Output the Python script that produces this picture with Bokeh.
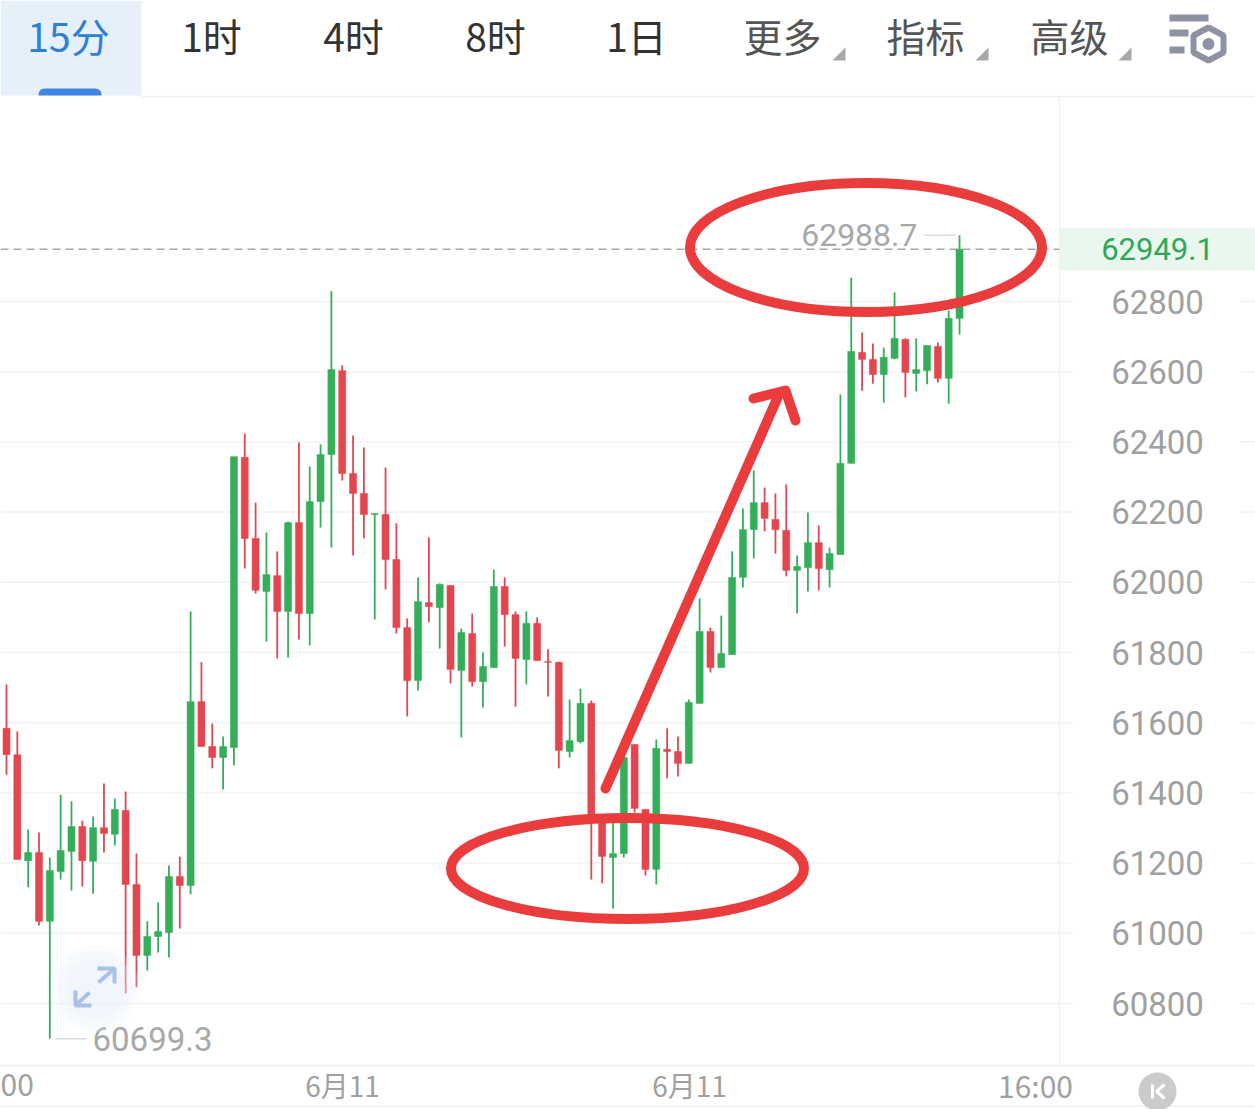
from bokeh.plotting import figure
from bokeh.models import Range1d, ColumnDataSource
from bokeh.core.properties import value
from bokeh.embed import file_html
from bokeh.resources import INLINE

opens = [61584,61509,61207,61230,61034,61176,61233,61304,61205,61301,
61282,61350,61139,60937,60991,61002,61162,61136,61660,61532,
61501,61529,62356,62125,61974,62019,61917,62170,61911,62230,
62364,62603,62310,62253,62193,62193,62065,61871,61720,61942,
61928,61991,61749,61854,61717,61757,61988,61908,61780,61883,
61774,61772,61518,61546,61655,61336,61216,61227,61538,61353,
61182,61524,61518,61484,61655,61860,61757,61794,62014,62150,
62227,62179,62148,62034,62042,62113,62036,62079,62339,62655,
62635,62592,62638,62692,62595,62603,62672,62581,62752]
closes = [61509,61210,61230,61034,61179,61236,61304,61207,61301,61284,
61353,61139,60937,60991,61005,61162,61136,61660,61532,61501,
61532,62358,62125,61977,62022,61917,62170,61911,62230,62364,
62606,62310,62253,62193,62196,62065,61871,61720,61945,61931,
61994,61752,61857,61717,61760,61988,61908,61783,61883,61777,
61772,61521,61549,61655,61336,61219,61227,61501,61356,61182,
61527,61518,61484,61658,61860,61757,61797,62014,62150,62227,
62182,62150,62034,62045,62113,62039,62082,62339,62658,62635,
62592,62641,62695,62598,62606,62675,62581,62752,62949.1]
highs = [61709,61575,61296,61287,61216,61395,61376,61321,61333,61427,
61384,61404,61227,61034,61088,61193,61219,61917,61772,61598,
61561,62358,62424,62227,62142,62088,62173,62398,62330,62393,
62829,62618,62418,62384,62196,62327,62168,61897,62014,62128,
61997,61991,61868,61911,61800,62036,62014,61917,61917,61900,
61809,61774,61666,61697,61663,61336,61341,61527,61538,61353,
61552,61584,61561,61666,61954,61871,61905,62088,62210,62319,
62270,62253,62279,62076,62199,62162,62099,62535,62868,62712,
62680,62669,62826,62695,62695,62675,62683,62774,62988.7]
lows = [61452,61210,61131,61022,60699.3,61153,61122,61133,61113,61230,
61250,60829,60846,60894,60945,60931,61014,61111,61532,61470,
61410,61478,62039,61968,61831,61783,61786,61837,61820,62156,
62099,62290,62076,62125,61894,61980,61854,61618,61692,61886,
61811,61712,61558,61703,61643,61757,61817,61646,61709,61777,
61675,61470,61501,61541,61153,61142,61071,61216,61344,61165,
61139,61441,61447,61484,61655,61743,61757,61794,61985,62068,
62145,62082,62017,61911,61974,61977,61985,62079,62339,62546,
62566,62512,62635,62527,62544,62564,62569,62509,62706]

y_ticks = [62800,62600,62400,62200,62000,61800,61600,61400,61200,61000,60800]
x_labels = ["00","6月11","6月11","16:00"]
tabs = ["15分","1时","4时","8时","1日","更多","指标","高级"]
last_price = 62949.1
max_price = 62988.7
min_price = 60699.3

GREEN, RED = "#35ae5a", "#e2464f"
GREY = "#a0a0a0"
CJK = value("Noto Sans CJK SC")
NUM = value("Roboto")

W, H = 1255, 1109
PX0, DX = 6.0, 10.83          # first candle centre, candle spacing
Y800, PPU = 1003.0, 0.351     # pixel of 60800, pixels per price unit

p = figure(width=W, height=H, output_backend="svg", toolbar_location=None,
           x_axis_type=None, y_axis_type=None, min_border=0,
           x_range=Range1d(-PX0/DX, (W-PX0)/DX),
           y_range=Range1d(60800-(H-Y800)/PPU, 60800+Y800/PPU),
           outline_line_color=None, background_fill_color="white")
p.grid.visible = False
p.extra_x_ranges["px"] = Range1d(0, W)
p.extra_y_ranges["px"] = Range1d(H, 0)
PXK = dict(x_range_name="px", y_range_name="px")
XPX = dict(x_range_name="px")

# tab background and frame lines
p.quad(left=[0], right=[141], top=[0], bottom=[95], fill_color="#e6f0fb", line_color=None, **PXK)
p.quad(left=[38], right=[101], top=[88], bottom=[95], fill_color="#3f87e0", line_color=None,
       border_radius=(6,6,0,0), **PXK)
p.segment(x0=[141,0,0,1059], y0=[96,1065,1106,96], x1=[W,W,W,1059], y1=[96,1065,1106,1065],
          line_color="#f1f1f1", line_width=1.5, **PXK)

# grid
p.segment(x0=[0]*len(y_ticks), x1=[1072]*len(y_ticks), y0=y_ticks, y1=y_ticks,
          line_color="#f3f3f3", line_width=1.5, **XPX)
p.segment(x0=[1240]*len(y_ticks), x1=[W]*len(y_ticks), y0=y_ticks, y1=y_ticks,
          line_color="#f3f3f3", line_width=1.5, **XPX)

# last price
p.quad(left=[1059], right=[W], top=[last_price+60], bottom=[last_price-60],
       fill_color="#e9f7ee", line_color=None, **XPX)
p.segment(x0=[0], x1=[1059], y0=[last_price], y1=[last_price], line_color="#a9a9a9",
          line_width=1.5, line_dash="8 5", **XPX)

# candles
idx = list(range(len(opens)))
src = ColumnDataSource(dict(
    i=idx, o=opens, c=closes, h=highs, l=lows,
    top=[max(a,b) for a,b in zip(opens,closes)],
    bot=[min(a,b) for a,b in zip(opens,closes)],
    col=[GREEN if c>=o else RED for o,c in zip(opens,closes)]))
p.segment(x0="i", x1="i", y0="l", y1="h", line_color="col", line_width=1.8, source=src)
p.vbar(x="i", width=0.65, top="top", bottom="bot", fill_color="col", line_color="col",
       line_width=0.5, source=src)

# y labels
p.text(x=[1157]*len(y_ticks), y=y_ticks, text=[str(t) for t in y_ticks], text_font=NUM,
       text_font_size="33px", text_color=GREY, text_align="center", text_baseline="middle", **XPX)
p.text(x=[1157], y=[last_price], text=[f"{last_price}"], text_font=NUM, text_font_size="31px",
       text_color="#2fa85a", text_align="center", text_baseline="middle", **XPX)

# x labels
p.text(x=[0,1035], y=[1084]*2, text=[x_labels[0], x_labels[3]], text_font=CJK,
       text_font_size="30px", text_color=GREY, text_align=["left","center"],
       text_baseline="middle", **PXK)
p.text(x=[342,689], y=[1084]*2, text=[x_labels[1], x_labels[2]], text_font=CJK,
       text_font_size="28px", text_color=GREY, text_align="center",
       text_baseline="middle", **PXK)

# extreme labels
p.text(x=[917], y=[max_price], text=[f"{max_price}"], text_font=NUM, text_font_size="32px",
       text_color="#a8a8a8", text_align="right", text_baseline="middle", **XPX)
p.segment(x0=[924], x1=[955], y0=[max_price], y1=[max_price], line_color="#d9d9d9", line_width=1.5, **XPX)
p.text(x=[92], y=[min_price], text=[f"{min_price}"], text_font=NUM, text_font_size="33px",
       text_color="#a8a8a8", text_align="left", text_baseline="middle", **XPX)
p.segment(x0=[55], x1=[86], y0=[min_price], y1=[min_price], line_color="#d9d9d9", line_width=1.5, **XPX)

# expand badge
for r, a in [(44,0.2),(38,0.25),(30,0.3)]:
    p.circle(x=[95], y=[988], radius=r, fill_color="#e8f0fc", fill_alpha=a, line_color=None, **PXK)
p.multi_line(xs=[[98,114],[97,114,114],[89,75],[91,75,75]],
             ys=[[982,968],[968,968,983],[992,1005],[1005,1005,990]],
             line_color="#a9c0e8", line_width=4, **PXK)

# reset button
p.circle(x=[1157], y=[1091], radius=19, fill_color="#cbcbcb", line_color=None, **PXK)
p.multi_line(xs=[[1152,1152],[1164,1156,1164]], ys=[[1084,1098],[1084,1091,1098]],
             line_color="white", line_width=3, **PXK)

# hand drawn annotation
ANN = "#ea3c3c"
p.ellipse(x=[865.5], y=[247], width=352, height=129, angle=0.0, fill_color=None,
          line_color=ANN, line_width=10, **PXK)
p.ellipse(x=[627], y=[868], width=353, height=101, angle=0.0, fill_color=None,
          line_color=ANN, line_width=10, **PXK)
p.multi_line(xs=[[605,778],[753,785,795]], ys=[[788,395],[398,390,420]],
             line_color=ANN, line_width=10, line_cap="round", line_join="round", **PXK)

# tabs
tx = [68,211,353,495,636,782,925,1069]
tc = ["#2f7fd6","#333333","#333333","#333333","#333333","#555555","#555555","#555555"]
p.text(x=tx, y=[34]*8, text=tabs, text_font=CJK, text_font_size="39px", text_color=tc,
       text_align="center", text_baseline="middle", **PXK)
for a in (832,975,1118):
    p.patch(x=[a,a+13,a+13], y=[60,60,47], fill_color="#a8a8a8", line_color=None, **PXK)

# settings icon
IC = "#8d93a3"
p.quad(left=[1169,1169,1169], right=[1208,1188,1184], top=[14,29,46], bottom=[21,36,53],
       fill_color=IC, line_color=None, **PXK)
p.patch(x=[1208,1223,1223,1208,1193,1193], y=[27,35,52,60,52,35], fill_color=None,
        line_color=IC, line_width=6, **PXK)
p.circle(x=[1208], y=[43.5], radius=6, fill_color=IC, line_color=None, **PXK)

open("out.html", "w").write(file_html(p, INLINE))
